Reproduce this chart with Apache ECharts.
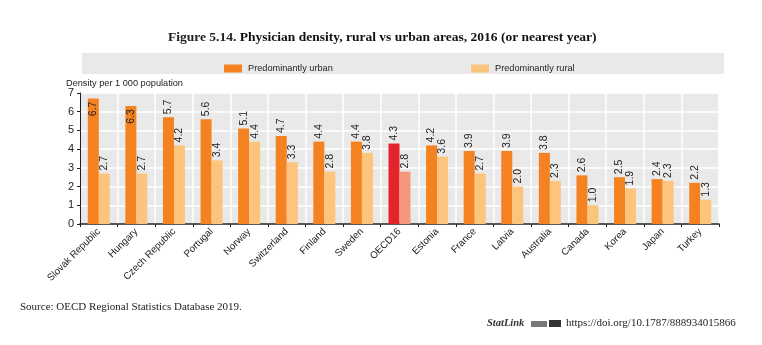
<!DOCTYPE html>
<html><head><meta charset="utf-8">
<script src="https://cdn.jsdelivr.net/npm/echarts@6/dist/echarts.min.js"></script>
<style>html,body{margin:0;padding:0;background:#fff}#c{width:762px;height:345px}</style>
</head><body><div id="c"></div>
<script>
const categories = ['Slovak Republic','Hungary','Czech Republic','Portugal','Norway','Switzerland','Finland','Sweden','OECD16','Estonia','France','Latvia','Australia','Canada','Korea','Japan','Turkey'];
const urban = [6.7,6.3,5.7,5.6,5.1,4.7,4.4,4.4,4.3,4.2,3.9,3.9,3.8,2.6,2.5,2.4,2.2];
const rural = [2.7,2.7,4.2,3.4,4.4,3.3,2.8,3.8,2.8,3.6,2.7,2.0,2.3,1.0,1.9,2.3,1.3];
const yTicks = [0,1,2,3,4,5,6,7];

const URBAN = '#f58220', RURAL = '#fdc47d', OECD_U = '#e3242b', OECD_R = '#f4977a';
const FONT = '"Liberation Sans",Arial,sans-serif';
const SERIF = '"Liberation Serif","DejaVu Serif",serif';

function mk(vals, color, hiColor, insideIdx) {
  return vals.map((v, i) => {
    const d = { value: v, itemStyle: { color: categories[i] === 'OECD16' ? hiColor : color } };
    if (insideIdx.includes(i)) {
      d.label = { position: 'insideTop', align: 'right', distance: 3 };
    }
    return d;
  });
}
const labelBase = { show: true, position: 'top', rotate: 90, align: 'left', verticalAlign: 'middle', distance: 3,
  fontSize: 10.5, color: '#222', fontFamily: FONT, formatter: p => p.value.toFixed(1) };

const chart = echarts.init(document.getElementById('c'));
chart.setOption({
  animation: false,
  backgroundColor: '#fff',
  title: {
    text: '{n|Figure 5.14. }{b|Physician density, rural vs urban areas, 2016 (or nearest year)}',
    left: 163, top: 26,
    textStyle: { rich: {
      n: { fontFamily: SERIF, fontSize: 13.5, color: '#222' },
      b: { fontFamily: SERIF, fontSize: 13.5, fontWeight: 'bold', color: '#111' }
    } }
  },
  graphic: [
    { type: 'rect', shape: { x: 82, y: 53, width: 642, height: 21 }, style: { fill: '#e9e9e9' }, z: -1 },
    { type: 'text', left: 20, top: 302, style: { text: 'Source: OECD Regional Statistics Database 2019.', font: '11px ' + SERIF, fill: '#222' } },
    { type: 'text', left: 487, top: 318, style: { text: 'StatLink', font: 'italic bold 10.5px ' + SERIF, fill: '#333' } },
    { type: 'rect', shape: { x: 531, y: 321, width: 16, height: 6 }, style: { fill: '#777' } },
    { type: 'rect', shape: { x: 549, y: 320, width: 12, height: 7 }, style: { fill: '#333' } },
    { type: 'text', left: 566, top: 318, style: { text: 'https://doi.org/10.1787/888934015866', font: '11px ' + SERIF, fill: '#222' } }
  ],
  legend: [
    { data: ['Predominantly urban'], left: 219, top: 59, itemWidth: 18, itemHeight: 8, itemGap: 6, icon: 'rect',
      textStyle: { fontSize: 9.2, fontFamily: FONT, color: '#222', padding: [0, 0, 0, 1] } },
    { data: ['Predominantly rural'], left: 466, top: 59, itemWidth: 18, itemHeight: 8, itemGap: 6, icon: 'rect',
      textStyle: { fontSize: 9.2, fontFamily: FONT, color: '#222', padding: [0, 0, 0, 1] } }
  ],
  grid: { left: 80, right: 43, top: 93, bottom: 121, show: true, backgroundColor: '#e9e9e9', borderWidth: 0 },
  xAxis: {
    type: 'category', data: categories,
    axisLine: { lineStyle: { color: '#222', width: 1.5 } },
    axisTick: { show: true, length: 3, lineStyle: { color: '#222' } },
    splitLine: { show: true, lineStyle: { color: '#fff', width: 1.5 } },
    axisLabel: { rotate: 45, fontSize: 9.8, fontFamily: FONT, color: '#222', margin: 6, interval: 0 }
  },
  yAxis: {
    type: 'value', min: yTicks[0], max: yTicks[yTicks.length - 1], interval: 1,
    name: 'Density per 1 000 population', nameLocation: 'end', nameGap: 5,
    nameTextStyle: { align: 'left', fontSize: 9.2, fontFamily: FONT, color: '#222', padding: [0, 0, 0, -14] },
    axisLine: { show: true, lineStyle: { color: '#222' } },
    axisTick: { show: true, length: 3, lineStyle: { color: '#222' } },
    splitLine: { lineStyle: { color: '#fff', width: 1.5 } },
    axisLabel: { fontSize: 11, fontFamily: FONT, color: '#222', margin: 6 }
  },
  series: [
    { name: 'Predominantly urban', type: 'bar', barWidth: 11, barGap: '0%', color: URBAN,
      label: labelBase, data: mk(urban, URBAN, OECD_U, [0, 1]) },
    { name: 'Predominantly rural', type: 'bar', barWidth: 11, color: RURAL,
      label: labelBase, data: mk(rural, RURAL, OECD_R, []) }
  ]
});
</script></body></html>
